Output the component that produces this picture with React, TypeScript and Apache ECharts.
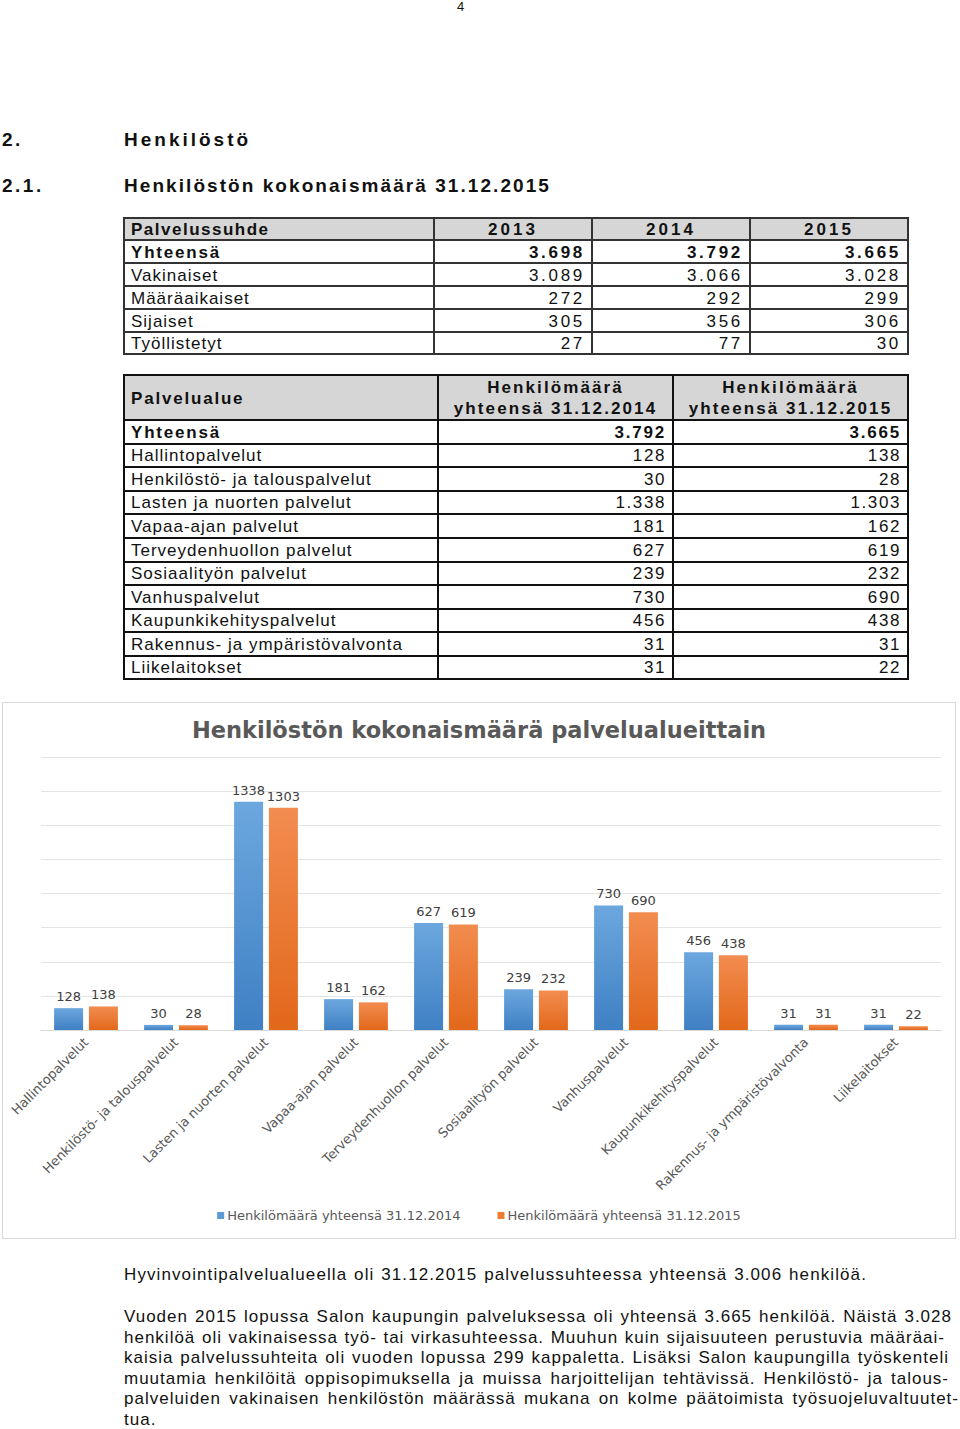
import React, { useEffect, useRef } from 'react';
import * as echarts from 'echarts';

// ---------- data ----------
const categories = [
  'Hallintopalvelut',
  'Henkilöstö- ja talouspalvelut',
  'Lasten ja nuorten palvelut',
  'Vapaa-ajan palvelut',
  'Terveydenhuollon palvelut',
  'Sosiaalityön palvelut',
  'Vanhuspalvelut',
  'Kaupunkikehityspalvelut',
  'Rakennus- ja ympäristövalvonta',
  'Liikelaitokset',
];
const values2014 = [128, 30, 1338, 181, 627, 239, 730, 456, 31, 31];
const values2015 = [138, 28, 1303, 162, 619, 232, 690, 438, 31, 22];
const seriesNames = ['Henkilömäärä yhteensä 31.12.2014', 'Henkilömäärä yhteensä 31.12.2015'];
const yMin = 0;
const yMax = 1600;
const yInterval = 200;

const employmentTypes = ['Yhteensä', 'Vakinaiset', 'Määräaikaiset', 'Sijaiset', 'Työllistetyt'];
const employmentYears = ['2013', '2014', '2015'];
const employment2013 = ['3.698', '3.089', '272', '305', '27'];
const employment2014 = ['3.792', '3.066', '292', '356', '77'];
const employment2015 = ['3.665', '3.028', '299', '306', '30'];

const areaTotal2014 = '3.792';
const areaTotal2015 = '3.665';

const paragraph1 = 'Hyvinvointipalvelualueella oli 31.12.2015 palvelussuhteessa yhteensä 3.006 henkilöä.';
const paragraph2Lines = [
  'Vuoden 2015 lopussa Salon kaupungin palveluksessa oli yhteensä 3.665 henkilöä. Näistä 3.028',
  'henkilöä oli vakinaisessa työ- tai virkasuhteessa. Muuhun kuin sijaisuuteen perustuvia määräai-',
  'kaisia palvelussuhteita oli vuoden lopussa 299 kappaletta. Lisäksi Salon kaupungilla työskenteli',
  'muutamia henkilöitä oppisopimuksella ja muissa harjoittelijan tehtävissä. Henkilöstö- ja talous-',
  'palveluiden vakinaisen henkilöstön määrässä mukana on kolme päätoimista työsuojeluvaltuutet-',
  'tua.',
];

const fmt = (n: number) =>
  n >= 1000 ? Math.floor(n / 1000) + '.' + String(n % 1000).padStart(3, '0') : String(n);

// ---------- layout helpers ----------
const FONT = "'Liberation Sans', Arial, sans-serif";

type Cell = { text: string; align: 'left' | 'right' | 'center'; bold?: boolean; ls?: number; lines?: string[] };

function GridTable(props: {
  xs: number[];
  ys: number[];
  rows: Cell[][];
  headerRows: number;
  line: number;
  lineColor: string;
}) {
  const { xs, ys, rows, headerRows, line, lineColor } = props;
  const els: React.ReactNode[] = [];
  const left = xs[0];
  const right = xs[xs.length - 1];
  const top = ys[0];
  const bottom = ys[ys.length - 1];
  if (headerRows > 0) {
    els.push(
      <div key="hbg" style={{ position: 'absolute', left, top, width: right - left, height: ys[headerRows] - top, background: '#d6d6d6' }} />
    );
  }
  rows.forEach((row, r) => {
    let c = 0;
    row.forEach((cell) => {
      const x0 = xs[c];
      const x1 = xs[c + 1];
      const y0 = ys[r];
      const y1 = ys[r + 1];
      c++;
      els.push(
        <div
          key={`c${r}-${c}`}
          style={{
            position: 'absolute',
            left: x0 + 7,
            width: x1 - x0 - 14,
            top: y0,
            height: y1 - y0,
            display: 'flex',
            flexDirection: 'column',
            justifyContent: 'center',
            alignItems: cell.align === 'left' ? 'flex-start' : cell.align === 'right' ? 'flex-end' : 'center',
            fontWeight: cell.bold ? 'bold' : 'normal',
            letterSpacing: cell.ls ?? 1,
            fontSize: 17,
            lineHeight: '21px',
            whiteSpace: 'nowrap',
            color: '#111',
            paddingTop: 1,
            boxSizing: 'border-box',
          }}
        >
          {cell.lines ? cell.lines.map((l, i) => <div key={i}>{l}</div>) : cell.text}
        </div>
      );
    });
  });
  ys.forEach((y, i) => {
    els.push(
      <div key={`h${i}`} style={{ position: 'absolute', left: left - line / 2, top: y - line / 2, width: right - left + line, height: line, background: lineColor }} />
    );
  });
  xs.forEach((x, i) => {
    els.push(
      <div key={`v${i}`} style={{ position: 'absolute', left: x - line / 2, top: top - line / 2, width: line, height: bottom - top + line, background: lineColor }} />
    );
  });
  return <>{els}</>;
}

function Chart() {
  const ref = useRef<HTMLDivElement>(null);
  useEffect(() => {
    if (!ref.current) return;
    const chart = echarts.init(ref.current, null, { renderer: 'svg' });
    const grad = (a: string, b: string) =>
      new echarts.graphic.LinearGradient(0, 0, 0, 1, [
        { offset: 0, color: a },
        { offset: 1, color: b },
      ]);
    const labelStyle = {
      show: true,
      position: 'top',
      distance: 5,
      fontFamily: 'DejaVu Sans',
      fontSize: 13,
      color: '#404040',
    };
    chart.setOption({
      animation: false,
      title: {
        text: 'Henkilöstön kokonaismäärä palvelualueittain',
        left: 'center',
        top: 10,
        textStyle: { fontFamily: 'DejaVu Sans', fontSize: 22.5, fontWeight: 'bold', color: '#595959' },
      },
      legend: {
        bottom: 11,
        left: 'center',
        icon: 'rect',
        itemWidth: 7,
        itemHeight: 7,
        itemGap: 37,
        data: [
          { name: seriesNames[0], itemStyle: { color: '#5b9bd5' } },
          { name: seriesNames[1], itemStyle: { color: '#ed7d31' } },
        ],
        textStyle: { fontFamily: 'DejaVu Sans', fontSize: 13, color: '#595959', padding: [0, 0, 0, -2] },
      },
      grid: { left: 38, right: 14, top: 54, bottom: 208 },
      xAxis: {
        type: 'category',
        data: categories,
        axisTick: { show: false },
        axisLine: { lineStyle: { color: '#d9d9d9' } },
        axisLabel: {
          rotate: 45,
          interval: 0,
          margin: 10,
          fontFamily: 'DejaVu Sans',
          fontSize: 13,
          color: '#595959',
        },
      },
      yAxis: {
        type: 'value',
        min: yMin,
        max: yMax,
        interval: yInterval,
        axisLabel: { show: false },
        axisLine: { show: false },
        axisTick: { show: false },
        splitLine: { lineStyle: { color: '#e4e4e4' } },
      },
      series: [
        {
          name: seriesNames[0],
          type: 'bar',
          data: values2014,
          barWidth: 29,
          barGap: '20%',
          itemStyle: { color: grad('#6ca7de', '#3f80c4') },
          label: labelStyle,
        },
        {
          name: seriesNames[1],
          type: 'bar',
          data: values2015,
          barWidth: 29,
          barGap: '20%',
          itemStyle: { color: grad('#f28c50', '#e2681a') },
          label: labelStyle,
        },
      ],
    });
    return () => chart.dispose();
  }, []);
  return <div ref={ref} style={{ width: 952, height: 535 }} />;
}

export default function App() {
  const t1Rows: Cell[][] = [
    [
      { text: 'Palvelussuhde', align: 'left', bold: true, ls: 1.5 },
      ...employmentYears.map((y) => ({ text: y, align: 'center' as const, bold: true, ls: 3 })),
    ],
    ...employmentTypes.map((t, i) => [
      { text: t, align: 'left' as const, bold: i === 0, ls: i === 0 ? 1.8 : 1 },
      { text: employment2013[i], align: 'right' as const, bold: i === 0, ls: 2.7 },
      { text: employment2014[i], align: 'right' as const, bold: i === 0, ls: 2.7 },
      { text: employment2015[i], align: 'right' as const, bold: i === 0, ls: 2.7 },
    ]),
  ];

  const t2Rows: Cell[][] = [
    [
      { text: 'Palvelualue', align: 'left', bold: true, ls: 1.8 },
      { text: '', lines: ['Henkilömäärä', 'yhteensä 31.12.2014'], align: 'center', bold: true, ls: 2.1 },
      { text: '', lines: ['Henkilömäärä', 'yhteensä 31.12.2015'], align: 'center', bold: true, ls: 2.1 },
    ],
    [
      { text: 'Yhteensä', align: 'left', bold: true, ls: 1.8 },
      { text: areaTotal2014, align: 'right', bold: true, ls: 1.8 },
      { text: areaTotal2015, align: 'right', bold: true, ls: 1.8 },
    ],
    ...categories.map((c, i) => [
      { text: c, align: 'left' as const, ls: 1 },
      { text: fmt(values2014[i]), align: 'right' as const, ls: 1.6 },
      { text: fmt(values2015[i]), align: 'right' as const, ls: 1.6 },
    ]),
  ];

  const t2Ys = [375, 420];
  for (let i = 1; i <= 11; i++) t2Ys.push(Math.round((420 + (i * 259) / 11) * 2) / 2);

  const heading = (text: string, left: number, cy: number, ls: number) => (
    <div
      style={{
        position: 'absolute',
        left,
        top: cy - 12,
        height: 24,
        lineHeight: '24px',
        fontSize: 19,
        fontWeight: 'bold',
        letterSpacing: ls,
        whiteSpace: 'nowrap',
        color: '#111',
      }}
    >
      {text}
    </div>
  );

  return (
    <div
      style={{
        position: 'absolute',
        left: 0,
        top: 0,
        width: 960,
        height: 1429,
        background: '#fff',
        fontFamily: FONT,
        overflow: 'hidden',
        color: '#111',
      }}
    >
      <div style={{ position: 'absolute', left: 457, top: 0, fontSize: 13, lineHeight: '14px' }}>4</div>

      {heading('2.', 2, 140, 2.5)}
      {heading('Henkilöstö', 124, 140, 3)}
      {heading('2.1.', 2, 186, 2.5)}
      {heading('Henkilöstön kokonaismäärä 31.12.2015', 124, 186, 2.06)}

      <GridTable xs={[124, 434, 592, 750, 908]} ys={[218, 240, 263, 286, 309, 332, 354]} rows={t1Rows} headerRows={1} line={1.5} lineColor="#333" />
      <GridTable xs={[124, 438, 673, 908]} ys={t2Ys} rows={t2Rows} headerRows={1} line={2} lineColor="#111" />

      <div
        style={{
          position: 'absolute',
          left: 2,
          top: 702,
          width: 954,
          height: 537,
          border: '1px solid #d9d9d9',
          boxSizing: 'border-box',
        }}
      >
        <Chart />
      </div>

      <div
        style={{
          position: 'absolute',
          left: 124,
          top: 1265,
          width: 743,
          fontSize: 17,
          lineHeight: '20px',
          letterSpacing: 1.1,
          whiteSpace: 'nowrap',
          textAlign: 'justify',
          textAlignLast: 'justify',
        }}
      >
        {paragraph1}
      </div>

      {paragraph2Lines.map((l, i) => {
        const widths = [828, 821, 825, 825, 835, 0];
        const w = widths[i];
        return (
          <div
            key={i}
            style={{
              position: 'absolute',
              left: 124,
              top: 1307 + i * 20.6,
              width: w || undefined,
              fontSize: 17,
              lineHeight: '20px',
              letterSpacing: 1,
              whiteSpace: 'nowrap',
              textAlign: w ? 'justify' : 'left',
              textAlignLast: w ? 'justify' : 'auto',
            }}
          >
            {l}
          </div>
        );
      })}
    </div>
  );
}
